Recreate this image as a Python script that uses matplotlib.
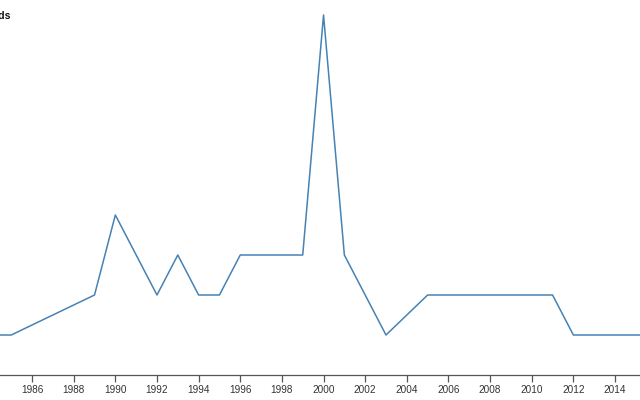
import matplotlib
matplotlib.use('Agg')
import matplotlib.pyplot as plt
from matplotlib.ticker import MultipleLocator

# yearly counts
years = [1984, 1985, 1989, 1990, 1992, 1993, 1994, 1995, 1996, 1999,
         2000, 2001, 2003, 2005, 2011, 2012, 2015, 2016]
counts = [1, 1, 2, 4, 2, 3, 2, 2, 3, 3,
          9, 3, 1, 2, 2, 1, 1, 1]
y_label = 'Downloads'

plt.rcParams['font.family'] = ['Liberation Sans', 'DejaVu Sans']

fig = plt.figure(figsize=(6.4, 4), dpi=100)
ax = fig.add_axes([0, 0, 1, 1])

ax.plot(years, counts, color='#4682b4', linewidth=1.1, clip_on=False)

ax.set_xlim(1984.46, 2015.20)
ax.set_ylim(-0.625, 9.375)

for side in ['left', 'top', 'right']:
    ax.spines[side].set_visible(False)
ax.spines['bottom'].set_position(('data', 0))
ax.spines['bottom'].set_color('#555555')
ax.spines['bottom'].set_linewidth(0.9)

ax.xaxis.set_major_locator(MultipleLocator(2))
ax.tick_params(axis='x', direction='out', length=5, width=0.9, color='#555555',
               labelsize=7.2, labelcolor='#333333', pad=2)
ax.set_yticks([])

fig.text(11 / 640, 1 - 16 / 400, y_label, ha='right', va='center',
         fontsize=7.5, fontweight='bold', color='#111111')

fig.savefig('out.png', dpi=100)
